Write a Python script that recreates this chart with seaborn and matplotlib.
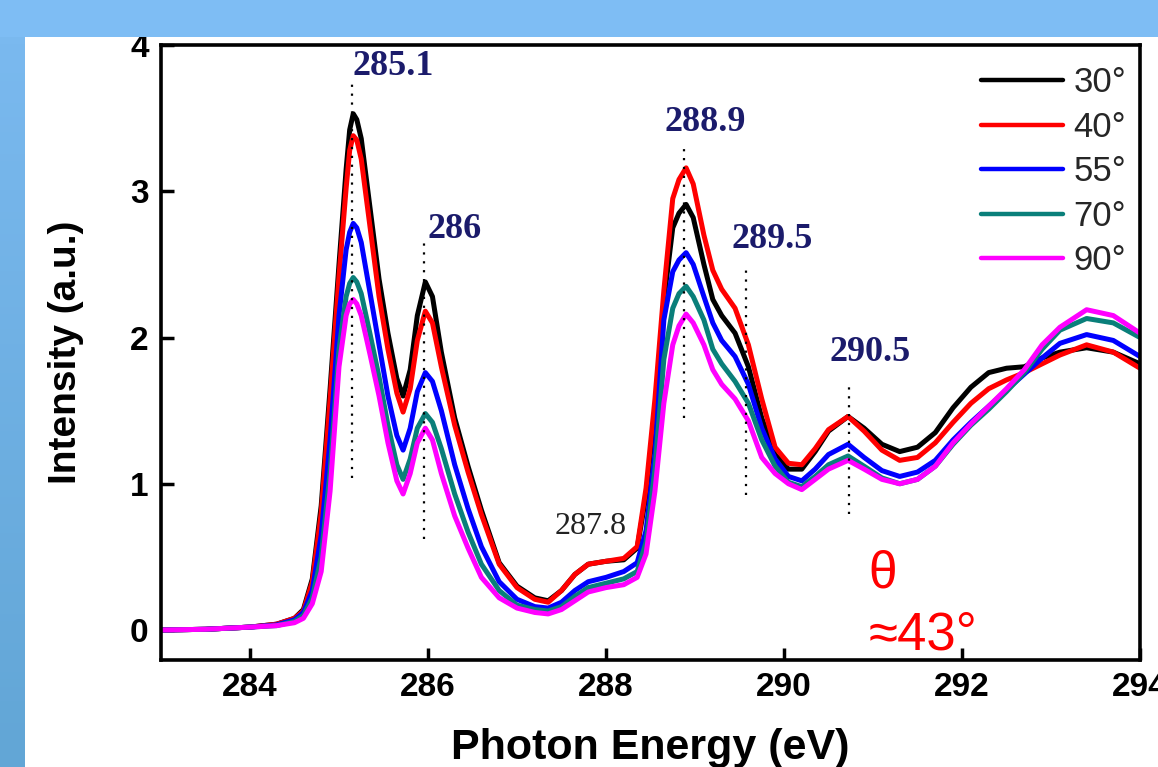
import matplotlib
matplotlib.use('Agg')
import matplotlib.pyplot as plt
import seaborn as sns
import pandas as pd
import numpy as np
from matplotlib.patches import Rectangle
from matplotlib.colors import LinearSegmentedColormap

# ---------------- data ----------------
energy = [283.0, 283.5, 284.0, 284.3, 284.5, 284.6, 284.7, 284.8, 284.9, 285.0,
          285.08, 285.12, 285.16, 285.20, 285.25, 285.35, 285.45, 285.55, 285.65, 285.72,
          285.8, 285.88, 285.97, 286.05, 286.15, 286.3, 286.45, 286.6, 286.8, 287.0,
          287.2, 287.35, 287.5, 287.65, 287.8, 288.0, 288.2, 288.35, 288.45, 288.55,
          288.65, 288.75, 288.82, 288.9, 288.98, 289.1, 289.2, 289.3, 289.45, 289.6,
          289.75, 289.9, 290.05, 290.2, 290.35, 290.5, 290.72, 290.9, 291.1, 291.3,
          291.5, 291.7, 291.9, 292.1, 292.3, 292.5, 292.7, 292.9, 293.1, 293.4,
          293.7, 294.0]

i30 = [0.00, 0.005, 0.02, 0.04, 0.08, 0.14, 0.35, 0.85, 1.65, 2.50,
       3.15, 3.42, 3.53, 3.49, 3.36, 2.88, 2.40, 2.03, 1.72, 1.60,
       1.78, 2.15, 2.38, 2.28, 1.90, 1.45, 1.12, 0.82, 0.46, 0.30,
       0.22, 0.20, 0.27, 0.38, 0.45, 0.47, 0.48, 0.56, 0.92, 1.50,
       2.25, 2.75, 2.85, 2.91, 2.82, 2.50, 2.26, 2.15, 2.03, 1.80,
       1.45, 1.20, 1.10, 1.10, 1.22, 1.36, 1.46, 1.38, 1.27, 1.22,
       1.25, 1.35, 1.52, 1.66, 1.76, 1.79, 1.80, 1.86, 1.90, 1.93,
       1.90, 1.82]

i40 = [0.00, 0.005, 0.02, 0.04, 0.08, 0.13, 0.33, 0.80, 1.58, 2.42,
       3.02, 3.28, 3.38, 3.35, 3.22, 2.75, 2.28, 1.92, 1.62, 1.49,
       1.65, 1.98, 2.18, 2.10, 1.80, 1.40, 1.08, 0.79, 0.45, 0.29,
       0.21, 0.19, 0.27, 0.38, 0.45, 0.47, 0.49, 0.57, 0.97, 1.58,
       2.32, 2.95, 3.08, 3.16, 3.05, 2.70, 2.46, 2.33, 2.20, 1.95,
       1.58, 1.25, 1.14, 1.13, 1.24, 1.37, 1.46, 1.36, 1.23, 1.16,
       1.18, 1.28, 1.42, 1.55, 1.65, 1.71, 1.76, 1.82, 1.88, 1.95,
       1.90, 1.79]

i55 = [0.00, 0.005, 0.02, 0.035, 0.07, 0.12, 0.27, 0.65, 1.30, 2.15,
       2.60, 2.72, 2.78, 2.75, 2.65, 2.30, 1.95, 1.60, 1.33, 1.23,
       1.38, 1.63, 1.76, 1.70, 1.50, 1.13, 0.83, 0.57, 0.33, 0.21,
       0.16, 0.15, 0.19, 0.27, 0.33, 0.36, 0.40, 0.46, 0.68, 1.20,
       2.12, 2.45, 2.53, 2.58, 2.50, 2.28, 2.10, 1.98, 1.87, 1.68,
       1.38, 1.17, 1.05, 1.02, 1.10, 1.20, 1.27, 1.18, 1.09, 1.05,
       1.08, 1.16, 1.30, 1.42, 1.53, 1.64, 1.75, 1.86, 1.96, 2.02,
       1.98, 1.87]

i70 = [0.00, 0.005, 0.02, 0.03, 0.06, 0.10, 0.22, 0.50, 1.08, 1.92,
       2.28, 2.37, 2.41, 2.38, 2.30, 2.02, 1.73, 1.40, 1.13, 1.03,
       1.17, 1.38, 1.48, 1.42, 1.24, 0.93, 0.67, 0.45, 0.27, 0.17,
       0.14, 0.13, 0.16, 0.23, 0.29, 0.32, 0.35, 0.40, 0.60, 1.10,
       1.85, 2.20, 2.30, 2.35, 2.28, 2.12, 1.92, 1.82, 1.70, 1.55,
       1.30, 1.12, 1.01, 0.98, 1.05, 1.13, 1.19, 1.12, 1.04, 1.00,
       1.03, 1.12, 1.27, 1.40, 1.51, 1.63, 1.76, 1.92, 2.05, 2.13,
       2.10, 2.00]

i90 = [0.00, 0.005, 0.02, 0.03, 0.05, 0.08, 0.18, 0.40, 0.95, 1.80,
       2.15, 2.23, 2.26, 2.23, 2.15, 1.88, 1.60, 1.28, 1.02, 0.93,
       1.07, 1.28, 1.38, 1.30, 1.07, 0.78, 0.56, 0.36, 0.22, 0.15,
       0.12, 0.11, 0.14, 0.20, 0.26, 0.29, 0.31, 0.36, 0.52, 0.95,
       1.55, 1.95, 2.08, 2.16, 2.10, 1.95, 1.78, 1.68, 1.58, 1.43,
       1.18, 1.07, 1.00, 0.96, 1.03, 1.10, 1.16, 1.10, 1.03, 1.00,
       1.03, 1.12, 1.28, 1.41, 1.53, 1.65, 1.78, 1.95, 2.07, 2.19,
       2.15, 2.03]

angles = ['30°', '40°', '55°', '70°', '90°']
colors = ['#000000', '#ff0000', '#0000ff', '#0a7f7a', '#ff00ff']

# peak markers (dotted lines) and labels
peak_pos = [285.15, 285.95, 288.88, 289.57, 290.73]
peak_lo = [1.04, 0.62, 1.45, 0.92, 0.79]
peak_hi = [3.73, 2.65, 3.29, 2.50, 1.69]
peak_labels = ['285.1', '286', '288.9', '289.5', '290.5']
label_x = [285.61, 286.30, 289.11, 289.87, 290.97]
label_y = [3.85, 2.74, 3.47, 2.67, 1.90]

xticks = [284, 286, 288, 290, 292, 294]
yticks = [0, 1, 2, 3, 4]

# ---------------- figure ----------------
sns.set_theme(style='white')
plt.rcParams['font.family'] = ['Liberation Sans', 'DejaVu Sans']

W, H = 1158, 767
fig = plt.figure(figsize=(W / 100, H / 100), dpi=100)
fig.patch.set_facecolor('white')

# blue frame: top band and left gradient strip
band_h = 37 / H
fig.patches.append(Rectangle((0, 1 - band_h), 1, band_h, transform=fig.transFigure,
                             facecolor='#7ebdf4', edgecolor='none', zorder=10))
bg = fig.add_axes([0, 0, 25 / W, 1 - band_h], zorder=-5)
cmap = LinearSegmentedColormap.from_list('strip', ['#7ab9ef', '#62a6d6'])
bg.imshow(np.linspace(0, 1, 100).reshape(-1, 1), aspect='auto', cmap=cmap)
bg.axis('off')

ax = fig.add_axes([161 / W, 1 - 660 / H, (1140 - 161) / W, (660 - 45) / H])
ax.set_facecolor('white')

df = pd.concat([pd.DataFrame({'energy': energy, 'intensity': vals, 'angle': a})
                for a, vals in zip(angles, [i30, i40, i55, i70, i90])], ignore_index=True)

sns.lineplot(data=df, x='energy', y='intensity', hue='angle', hue_order=angles,
             palette=colors, linewidth=3.6, estimator=None, sort=False, ax=ax)
for ln in ax.get_lines():
    ln.set_solid_joinstyle('round')
    ln.set_solid_capstyle('round')

ax.vlines(peak_pos, peak_lo, peak_hi, colors='black', linestyles=(0, (1, 3)),
          linewidth=1.6, zorder=5)
for lab, lx, ly in zip(peak_labels, label_x, label_y):
    ax.text(lx, ly, lab, ha='center', va='center', fontsize=26, fontweight='bold',
            color='#1b1b6b', family=['Liberation Serif', 'DejaVu Serif'])
ax.text(287.83, 0.71, '287.8', ha='center', va='center', fontsize=23,
        color='#222222', family=['Liberation Serif', 'DejaVu Serif'])
ax.text(290.95, 0.38, 'θ', ha='left', va='center', fontsize=37, color='#ff0000')
ax.text(290.95, -0.04, '≈43°', ha='left', va='center', fontsize=38, color='#ff0000')

ax.set_xlim(283, 294)
ax.set_ylim(-0.205, 4.0)
ax.set_xticks(xticks)
ax.set_yticks(yticks)
ax.tick_params(direction='in', length=9, width=2.5, labelsize=24, pad=9,
               bottom=True, left=True, top=False, right=False, colors='black')
for t in ax.get_xticklabels() + ax.get_yticklabels():
    t.set_fontweight('bold')
for s in ax.spines.values():
    s.set_visible(True)
    s.set_color('black')
    s.set_linewidth(2.6)

ax.set_xlabel('Photon Energy (eV)', fontsize=31, fontweight='bold', labelpad=18, color='black')
ax.set_ylabel('Intensity (a.u.)', fontsize=28, fontweight='bold', labelpad=33, color='black')

handles, labels = ax.get_legend_handles_labels()
leg = ax.legend(handles, labels, loc='upper right', bbox_to_anchor=(1.007, 0.999),
                frameon=False, fontsize=25, handlelength=2.35, handletextpad=0.3,
                labelspacing=0.33, borderaxespad=0.2)
for ln in leg.get_lines():
    ln.set_linewidth(3.2)

fig.savefig('out.png', dpi=100)
